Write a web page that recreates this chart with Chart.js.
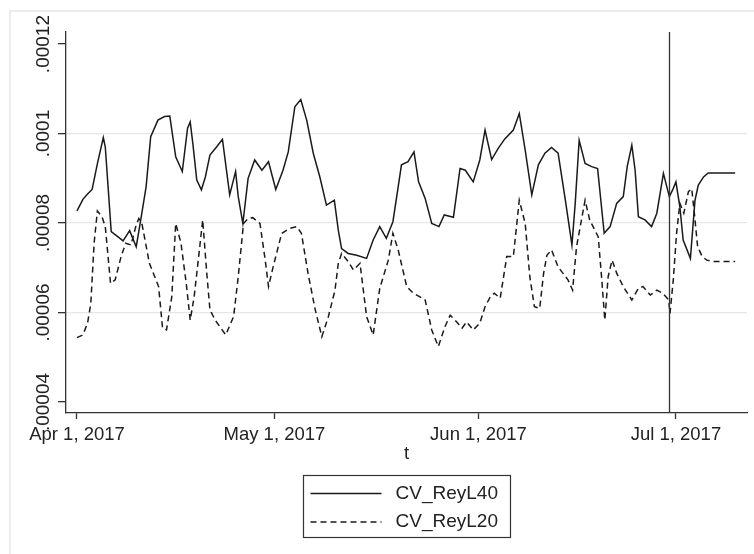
<!DOCTYPE html>
<html>
<head>
<meta charset="utf-8">
<script src="https://cdn.jsdelivr.net/npm/chart.js@4/dist/chart.umd.min.js"></script>
<style>
  html, body { margin: 0; padding: 0; background: #fff; }
  canvas { display: block; }
</style>
</head>
<body>
<canvas id="cvChart" width="754" height="554"></canvas>
<script>
// CV series, days counted from Apr 1, 2017

const seriesNames = ['CV_ReyL40', 'CV_ReyL20'];

const days40 = [0, 0.9, 1.6, 2.3, 3.1, 4.0, 4.3, 5.2, 5.9, 7.0, 8.0, 9.0, 9.6, 10.5, 11.2, 12.3, 13.3, 14.1, 15.0, 16.0,
  16.8, 17.2, 17.6, 18.2, 18.9, 19.5, 20.2, 21.2, 22.1, 23.2, 24.1, 24.5, 25.2, 26.0, 27.0, 28.1, 29.1, 30.2, 31.3, 32.1,
  33.1, 34.0, 34.9, 35.9, 36.9, 37.9, 39.1, 39.7, 40.2, 41.2, 42.5, 44.0, 45.0, 46.0, 47.0, 48.0, 48.8, 49.3, 50.3, 51.2,
  51.9, 52.9, 53.9, 55.0, 55.8, 57.2, 58.2, 59.0, 60.2, 61.2, 62.0, 63.0, 64.0, 65.0, 66.3, 67.2, 68.1, 69.1, 70.1, 71.1,
  72.1, 73.1, 74.2, 75.2, 75.7, 76.3, 77.2, 78.2, 79.1, 80.1, 81.0, 82.0, 83.0, 83.6, 84.3, 84.8, 85.3, 86.3, 87.3, 88.1,
  89.1, 90.0, 90.5, 91.0, 91.6, 92.1, 93.2, 93.9, 94.4, 95.2, 95.9, 100];
const cv40 = [8.27e-5, 8.53e-5, 8.65e-5, 8.75e-5, 9.33e-5, 9.91e-5, 9.70e-5, 7.81e-5, 7.73e-5, 7.60e-5, 7.83e-5, 7.47e-5, 7.99e-5, 8.81e-5, 9.93e-5, 10.30e-5, 10.38e-5, 10.39e-5, 9.48e-5, 9.15e-5,
  10.12e-5, 10.26e-5, 9.78e-5, 8.96e-5, 8.74e-5, 9.03e-5, 9.52e-5, 9.70e-5, 9.87e-5, 8.63e-5, 9.15e-5, 8.59e-5, 7.99e-5, 9.00e-5, 9.41e-5, 9.18e-5, 9.37e-5, 8.75e-5, 9.18e-5, 9.59e-5,
  10.60e-5, 10.76e-5, 10.30e-5, 9.56e-5, 9.03e-5, 8.40e-5, 8.51e-5, 7.84e-5, 7.43e-5, 7.32e-5, 7.28e-5, 7.21e-5, 7.62e-5, 7.92e-5, 7.66e-5, 8.03e-5, 8.81e-5, 9.30e-5, 9.37e-5, 9.59e-5,
  8.92e-5, 8.55e-5, 7.99e-5, 7.92e-5, 8.18e-5, 8.13e-5, 9.22e-5, 9.18e-5, 8.92e-5, 9.41e-5, 10.08e-5, 9.42e-5, 9.67e-5, 9.88e-5, 10.08e-5, 10.45e-5, 9.63e-5, 8.63e-5, 9.30e-5, 9.56e-5,
  9.69e-5, 9.56e-5, 8.51e-5, 7.51e-5, 8.44e-5, 9.85e-5, 9.33e-5, 9.26e-5, 9.22e-5, 7.77e-5, 7.92e-5, 8.44e-5, 8.59e-5, 9.26e-5, 9.74e-5, 9.18e-5, 8.14e-5, 8.07e-5, 7.92e-5, 8.22e-5,
  9.11e-5, 8.59e-5, 8.74e-5, 8.92e-5, 8.36e-5, 7.62e-5, 7.21e-5, 8.51e-5, 8.85e-5, 9.03e-5, 9.12e-5, 9.12e-5];

const days20 = [0, 0.9, 1.6, 2.1, 2.6, 3.1, 3.8, 4.3, 5.1, 5.8, 6.7, 7.4, 8.2, 9.0, 9.4, 9.9, 11.0, 12.4, 13.0, 13.6,
  14.4, 15.0, 15.8, 16.6, 17.2, 17.8, 18.6, 19.1, 19.7, 20.2, 21.0, 22.6, 23.8, 24.5, 25.3, 26.0, 26.7, 27.8, 28.6, 29.1,
  29.8, 31.1, 32.3, 33.4, 34.1, 35.1, 36.2, 37.2, 38.2, 39.2, 39.7, 40.2, 41.2, 42.0, 43.0, 44.0, 45.0, 46.0, 47.3, 48.0,
  48.8, 50.1, 51.1, 52.1, 52.9, 53.9, 54.9, 55.9, 56.7, 57.7, 58.5, 59.2, 60.2, 61.2, 62.0, 62.8, 63.4, 64.3, 65.3, 66.3,
  67.2, 68.1, 68.8, 69.5, 70.3, 70.9, 71.4, 72.1, 73.1, 74.6, 75.3, 75.9, 77.2, 77.9, 79.2, 79.7, 80.2, 80.7, 81.3, 82.0,
  83.0, 84.3, 85.3, 86.0, 87.1, 88.1, 89.0, 89.9, 90.1, 90.6, 91.1, 91.6, 92.2, 92.9, 93.4, 93.8, 94.3, 95.0, 95.7, 96.7, 100];
const cv20 = [5.44e-5, 5.50e-5, 5.76e-5, 6.20e-5, 7.55e-5, 8.27e-5, 8.14e-5, 7.92e-5, 6.65e-5, 6.73e-5, 7.25e-5, 7.55e-5, 7.51e-5, 7.96e-5, 8.10e-5, 7.96e-5, 7.10e-5, 6.58e-5, 5.65e-5, 5.61e-5,
  6.35e-5, 7.99e-5, 7.55e-5, 6.65e-5, 5.83e-5, 6.35e-5, 7.40e-5, 8.07e-5, 6.91e-5, 6.06e-5, 5.83e-5, 5.50e-5, 5.91e-5, 6.80e-5, 7.99e-5, 8.10e-5, 8.12e-5, 7.99e-5, 7.17e-5, 6.58e-5,
  7.02e-5, 7.77e-5, 7.88e-5, 7.92e-5, 7.77e-5, 6.88e-5, 6.06e-5, 5.46e-5, 5.91e-5, 6.50e-5, 7.10e-5, 7.32e-5, 7.14e-5, 6.95e-5, 7.10e-5, 5.91e-5, 5.50e-5, 6.54e-5, 7.17e-5, 7.77e-5,
  7.40e-5, 6.58e-5, 6.43e-5, 6.35e-5, 6.28e-5, 5.61e-5, 5.24e-5, 5.68e-5, 5.94e-5, 5.79e-5, 5.65e-5, 5.79e-5, 5.61e-5, 5.76e-5, 6.13e-5, 6.35e-5, 6.43e-5, 6.32e-5, 7.25e-5, 7.25e-5,
  8.51e-5, 7.99e-5, 6.80e-5, 6.13e-5, 6.09e-5, 6.88e-5, 7.28e-5, 7.40e-5, 7.02e-5, 6.73e-5, 6.50e-5, 7.47e-5, 8.51e-5, 8.07e-5, 7.69e-5, 6.80e-5, 5.83e-5, 6.80e-5, 7.17e-5, 6.88e-5,
  6.58e-5, 6.28e-5, 6.54e-5, 6.58e-5, 6.39e-5, 6.50e-5, 6.43e-5, 6.28e-5, 5.98e-5, 6.73e-5, 7.77e-5, 8.44e-5, 8.22e-5, 8.70e-5, 8.77e-5, 8.22e-5, 7.47e-5, 7.25e-5, 7.17e-5, 7.14e-5, 7.14e-5];

const xTickDays = [0, 30, 61, 91];
const xTickLabels = ['Apr 1, 2017', 'May 1, 2017', 'Jun 1, 2017', 'Jul 1, 2017'];
const yTickValues = [4e-5, 6e-5, 8e-5, 10e-5, 12e-5];
const yTickLabels = ['.00004', '.00006', '.00008', '.0001', '.00012'];
const xlineDay = 90; // Jun 30, 2017

const FONT = '"Liberation Sans", Arial, sans-serif';
const TEXT = '#222';
const AXIS = '#333';
const LINE = '#1a1a1a';

function toPoints(xs, ys) {
    return xs.map((x, i) => ({ x: x, y: ys[i] }));
}

// light frame of the graph region
const framePlugin = {
    id: 'frame',
    beforeDraw(chart) {
        const ctx = chart.ctx;
        ctx.save();
        ctx.fillStyle = '#fff';
        ctx.fillRect(0, 0, chart.width, chart.height);
        ctx.strokeStyle = '#ececec';
        ctx.lineWidth = 2;
        ctx.strokeRect(10, 11, chart.width + 20, chart.height + 20);
        ctx.restore();
    }
};

// vertical reference line
const xlinePlugin = {
    id: 'xline',
    afterDatasetsDraw(chart) {
        const { ctx, chartArea, scales } = chart;
        const x = Math.round(scales.x.getPixelForValue(xlineDay)) + 0.5;
        ctx.save();
        ctx.strokeStyle = AXIS;
        ctx.lineWidth = 1.3;
        ctx.beginPath();
        ctx.moveTo(x, chartArea.top);
        ctx.lineTo(x, chartArea.bottom);
        ctx.stroke();
        ctx.restore();
    }
};

// boxed legend under the plot
const legendBoxPlugin = {
    id: 'legendBox',
    afterDraw(chart) {
        const { ctx, chartArea } = chart;
        const w = 207, h = 62;
        const left = Math.round((chartArea.left + chartArea.right) / 2 - w / 2) + 0.5;
        const top = 475.5;
        ctx.save();
        ctx.strokeStyle = AXIS;
        ctx.lineWidth = 1.2;
        ctx.strokeRect(left, top, w, h);
        chart.data.datasets.forEach((ds, i) => {
            const y = top + 18 + i * 28.5;
            ctx.strokeStyle = ds.borderColor;
            ctx.lineWidth = ds.borderWidth;
            ctx.setLineDash(ds.borderDash || []);
            ctx.beginPath();
            ctx.moveTo(left + 7, y);
            ctx.lineTo(left + 78, y);
            ctx.stroke();
            ctx.setLineDash([]);
            ctx.fillStyle = TEXT;
            ctx.font = '19px ' + FONT;
            ctx.textBaseline = 'middle';
            ctx.textAlign = 'left';
            ctx.fillText(ds.label, left + 92, y);
        });
        ctx.restore();
    }
};

new Chart(document.getElementById('cvChart'), {
    type: 'line',
    data: {
        datasets: [
            {
                label: seriesNames[0],
                data: toPoints(days40, cv40),
                borderColor: LINE,
                borderWidth: 1.5,
                pointRadius: 0,
                tension: 0,
                fill: false
            },
            {
                label: seriesNames[1],
                data: toPoints(days20, cv20),
                borderColor: LINE,
                borderWidth: 1.5,
                borderDash: [6, 4],
                pointRadius: 0,
                tension: 0,
                fill: false
            }
        ]
    },
    options: {
        responsive: false,
        animation: false,
        devicePixelRatio: 1,
        layout: { padding: { top: 32, right: 7, bottom: 0, left: 0 } },
        plugins: {
            legend: { display: false },
            tooltip: { enabled: false }
        },
        scales: {
            x: {
                type: 'linear',
                min: -1.67,
                max: 101.8,
                afterBuildTicks: s => { s.ticks = xTickDays.map(v => ({ value: v })); },
                afterFit: s => { s.height = 141; },
                ticks: {
                    callback: (v, i) => xTickLabels[i],
                    autoSkip: false,
                    maxRotation: 0,
                    padding: 5,
                    color: TEXT,
                    font: { family: FONT, size: 18.5 }
                },
                grid: {
                    drawOnChartArea: false,
                    drawTicks: true,
                    tickLength: 6,
                    tickColor: AXIS,
                    tickWidth: 1.3
                },
                border: { color: AXIS, width: 1.3 },
                title: {
                    display: true,
                    text: 't',
                    color: TEXT,
                    font: { family: FONT, size: 18.5 },
                    padding: { top: 0, bottom: 89 }
                }
            },
            y: {
                min: 3.754e-5,
                max: 12.27e-5,
                afterBuildTicks: s => { s.ticks = yTickValues.map(v => ({ value: v })); },
                afterFit: s => { s.width = 66; },
                ticks: {
                    callback: (v, i) => yTickLabels[i],
                    minRotation: 90,
                    maxRotation: 90,
                    crossAlign: 'center',
                    padding: -14.5,
                    color: TEXT,
                    font: { family: FONT, size: 19 }
                },
                grid: {
                    color: c => (c.index === 0 || c.index === yTickValues.length - 1) ? 'rgba(0,0,0,0)' : '#e6e6e6',
                    lineWidth: 1.3,
                    drawTicks: true,
                    tickLength: 8,
                    tickColor: AXIS,
                    tickWidth: 1.3
                },
                border: { color: AXIS, width: 1.3 }
            }
        }
    },
    plugins: [framePlugin, xlinePlugin, legendBoxPlugin]
});
</script>
</body>
</html>
